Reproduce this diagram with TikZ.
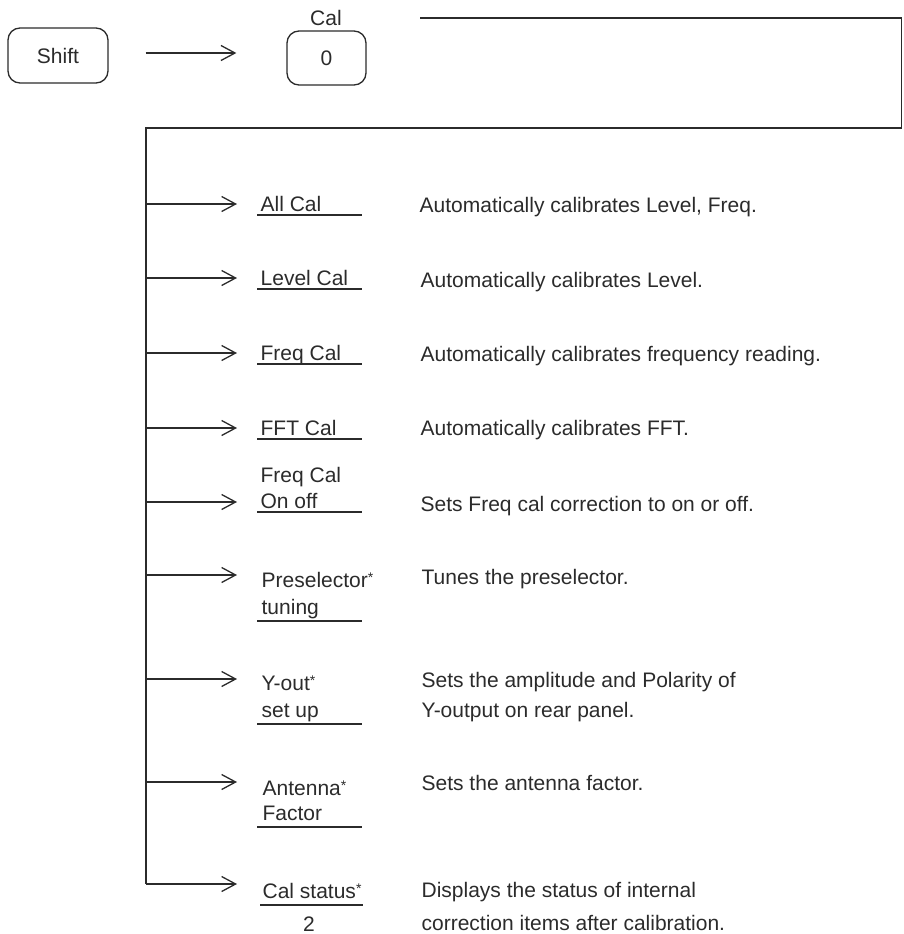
\documentclass[tikz,border=0pt]{standalone}
\usepackage{fontspec}
\setmainfont{Liberation Sans}
\usetikzlibrary{arrows.meta, positioning, calc}

\newcommand{\estrela}{\raisebox{5pt}{\fontsize{14}{14}\selectfont *}}

\begin{document}
\begin{tikzpicture}[x=1pt, y=-1pt, line width=1.3pt,
  key/.style={draw, rounded corners=12pt, minimum width=100pt, minimum height=55pt, font=\fontsize{21}{25}\selectfont},
  lbl/.style={anchor=base west, inner sep=0pt, font=\fontsize{21}{25}\selectfont},
  desc/.style={anchor=base west, inner sep=0pt, font=\fontsize{21}{25}\selectfont},
  arr/.style={-{Straight Barb[length=14pt, width=15pt, line width=1.3pt]}}]
\definecolor{tinta}{HTML}{2B2B2B}
\color{tinta}
\useasboundingbox (0,0) rectangle (903,934);

% --- Teclas Shift e Cal/0 ---
\node[key] (shift) at (58,55.5) {Shift};
\node[key, minimum width=79pt, minimum height=54pt] (zero) at (326.5,58) {0};
\node[font=\fontsize{21}{25}\selectfont, inner sep=0pt] (cal) at (326,18) {Cal};
\coordinate (s1) at ([xshift=37pt, yshift=2.5pt]shift.east);
\coordinate (s2) at ([xshift=-50pt, yshift=5pt]zero.west);
\draw[arr] (s1) -- (s2);

% --- Moldura e barramento ---
\coordinate (f1) at (420,18);
\coordinate (f2) at (901.8,18);
\coordinate (f3) at (901.8,128);
\coordinate (f4) at (146,128);
\foreach \i/\y in {1/204, 2/278, 3/353, 4/428, 5/502, 6/575, 7/679, 8/782, 9/884} {
  \coordinate (b\i) at (146,\y);
  \coordinate (t\i) at (237,\y);
  \draw[arr] (b\i) -- (t\i);
}
\draw (f1) -- (f2) -- (f3) -- (f4) -- (b9);

% --- Teclas de menu (soft keys) ---
\node[lbl] (allcal) at (260,211) {All Cal};
\node[lbl] (levelcal) at (260,285) {Level Cal};
\node[lbl] (freqcal) at (260,360) {Freq Cal};
\node[lbl] (fftcal) at (260,435) {FFT Cal};
\node[lbl] (fcon1) at (260,482) {Freq Cal};
\node[lbl] (fcon2) at (260,508) {On off};
\node[lbl] (presel1) at (261,587) {Preselector\estrela};
\node[lbl] (presel2) at (261,614) {tuning};
\node[lbl] (yout1) at (261,690) {Y-out\estrela};
\node[lbl] (yout2) at (261,717) {set up};
\node[lbl] (ant1) at (262,795) {Antenna\estrela};
\node[lbl] (ant2) at (262,820) {Factor};
\node[lbl] (calst) at (262,898) {Cal status\estrela};
\node[lbl, anchor=base] (pag) at (309,931) {2};

% sublinhados
\foreach \u in {215, 289, 364, 439, 512, 621, 724, 827}
  \draw (257,\u) -- (362,\u);
\draw[line width=1.8pt] (260,905) -- (363,905);

% --- Descricoes ---
\node[desc] (d1) at (419,212) {Automatically calibrates Level, Freq.};
\node[desc] (d2) at (420,287) {Automatically calibrates Level.};
\node[desc] (d3) at (420,361) {Automatically calibrates frequency reading.};
\node[desc] (d4) at (420,435) {Automatically calibrates FFT.};
\node[desc] (d5) at (420,511) {Sets Freq cal correction to on or off.};
\node[desc] (d6) at (421,584) {Tunes the preselector.};
\node[desc] (d7a) at (421,687) {Sets the amplitude and Polarity of};
\node[desc] (d7b) at (421,717) {Y-output on rear panel.};
\node[desc] (d8) at (421,790) {Sets the antenna factor.};
\node[desc] (d9a) at (421,897) {Displays the status of internal};
\node[desc] (d9b) at (421,930) {correction items after calibration.};
\end{tikzpicture}
\end{document}
